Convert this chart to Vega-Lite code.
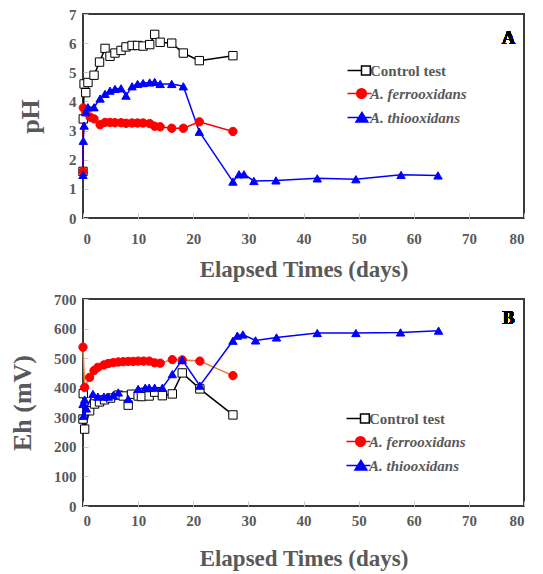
{
  "$schema": "https://vega.github.io/schema/vega-lite/v6.json",
  "background": "white",
  "padding": {"left": 8, "top": 6, "right": 5, "bottom": 5},
  "config": {
    "font": "Liberation Serif",
    "view": {"stroke": "#3a3a3a", "strokeWidth": 2},
    "axis": {
      "grid": false, "domain": false,
      "labelFont": "Liberation Serif", "labelFontWeight": "bold", "labelFontSize": 15, "labelColor": "#595959",
      "titleFont": "Liberation Serif", "titleFontWeight": "bold", "titleColor": "#595959",
      "tickColor": "#c8c8c8", "tickSize": -5, "tickWidth": 1
    },
    "legend": {
      "labelFont": "Liberation Serif", "labelFontSize": 15, "labelFontWeight": "bold", "labelColor": "#595959",
      "symbolSize": 64, "symbolStrokeWidth": 1.5, "symbolOpacity": 1, "rowPadding": 7, "labelOffset": 5
    }
  },
  "datasets": {
    "ph": [
      {"series": "Control test", "day": 0, "value": 1.6},
      {"series": "Control test", "day": 0.05, "value": 3.4},
      {"series": "Control test", "day": 0.2, "value": 4.6},
      {"series": "Control test", "day": 0.5, "value": 4.3},
      {"series": "Control test", "day": 0.9, "value": 4.65},
      {"series": "Control test", "day": 2, "value": 4.9},
      {"series": "Control test", "day": 3, "value": 5.35},
      {"series": "Control test", "day": 4, "value": 5.82},
      {"series": "Control test", "day": 4.9, "value": 5.55},
      {"series": "Control test", "day": 5.8, "value": 5.66},
      {"series": "Control test", "day": 6.9, "value": 5.75},
      {"series": "Control test", "day": 7.8, "value": 5.87},
      {"series": "Control test", "day": 8.9, "value": 5.92},
      {"series": "Control test", "day": 9.9, "value": 5.92},
      {"series": "Control test", "day": 10.9, "value": 5.9},
      {"series": "Control test", "day": 12.1, "value": 5.95},
      {"series": "Control test", "day": 13, "value": 6.3},
      {"series": "Control test", "day": 14, "value": 6.03},
      {"series": "Control test", "day": 16.1, "value": 6.0},
      {"series": "Control test", "day": 18.2, "value": 5.66},
      {"series": "Control test", "day": 21.1, "value": 5.4},
      {"series": "Control test", "day": 27.2, "value": 5.57},
      {"series": "A. ferrooxidans", "day": 0, "value": 1.6},
      {"series": "A. ferrooxidans", "day": 0.05, "value": 3.78},
      {"series": "A. ferrooxidans", "day": 0.5, "value": 3.64},
      {"series": "A. ferrooxidans", "day": 1.3, "value": 3.46},
      {"series": "A. ferrooxidans", "day": 2, "value": 3.4},
      {"series": "A. ferrooxidans", "day": 3.1, "value": 3.2},
      {"series": "A. ferrooxidans", "day": 4, "value": 3.28},
      {"series": "A. ferrooxidans", "day": 4.9, "value": 3.28},
      {"series": "A. ferrooxidans", "day": 5.8, "value": 3.27},
      {"series": "A. ferrooxidans", "day": 6.9, "value": 3.27},
      {"series": "A. ferrooxidans", "day": 7.8, "value": 3.25},
      {"series": "A. ferrooxidans", "day": 8.9, "value": 3.26},
      {"series": "A. ferrooxidans", "day": 9.9, "value": 3.26},
      {"series": "A. ferrooxidans", "day": 10.9, "value": 3.26},
      {"series": "A. ferrooxidans", "day": 12.1, "value": 3.24},
      {"series": "A. ferrooxidans", "day": 13, "value": 3.15},
      {"series": "A. ferrooxidans", "day": 14, "value": 3.13},
      {"series": "A. ferrooxidans", "day": 16.1, "value": 3.08},
      {"series": "A. ferrooxidans", "day": 18.2, "value": 3.08},
      {"series": "A. ferrooxidans", "day": 21.1, "value": 3.3},
      {"series": "A. ferrooxidans", "day": 27.2, "value": 2.97},
      {"series": "A. thiooxidans", "day": 0, "value": 1.48},
      {"series": "A. thiooxidans", "day": 0.05, "value": 2.65},
      {"series": "A. thiooxidans", "day": 0.2, "value": 3.17},
      {"series": "A. thiooxidans", "day": 0.5, "value": 3.63},
      {"series": "A. thiooxidans", "day": 0.9, "value": 3.8},
      {"series": "A. thiooxidans", "day": 2, "value": 3.8},
      {"series": "A. thiooxidans", "day": 3.1, "value": 4.1},
      {"series": "A. thiooxidans", "day": 4, "value": 4.26},
      {"series": "A. thiooxidans", "day": 4.9, "value": 4.37},
      {"series": "A. thiooxidans", "day": 5.8, "value": 4.43},
      {"series": "A. thiooxidans", "day": 6.9, "value": 4.45},
      {"series": "A. thiooxidans", "day": 7.8, "value": 4.2},
      {"series": "A. thiooxidans", "day": 8.9, "value": 4.52},
      {"series": "A. thiooxidans", "day": 9.9, "value": 4.6},
      {"series": "A. thiooxidans", "day": 10.9, "value": 4.63},
      {"series": "A. thiooxidans", "day": 12.1, "value": 4.65},
      {"series": "A. thiooxidans", "day": 13, "value": 4.67},
      {"series": "A. thiooxidans", "day": 14, "value": 4.6},
      {"series": "A. thiooxidans", "day": 16.1, "value": 4.6},
      {"series": "A. thiooxidans", "day": 18.2, "value": 4.52},
      {"series": "A. thiooxidans", "day": 21.1, "value": 2.96},
      {"series": "A. thiooxidans", "day": 27.2, "value": 1.25},
      {"series": "A. thiooxidans", "day": 28.3, "value": 1.5},
      {"series": "A. thiooxidans", "day": 29.2, "value": 1.5},
      {"series": "A. thiooxidans", "day": 31, "value": 1.27},
      {"series": "A. thiooxidans", "day": 35, "value": 1.29},
      {"series": "A. thiooxidans", "day": 42.5, "value": 1.36},
      {"series": "A. thiooxidans", "day": 49.5, "value": 1.33},
      {"series": "A. thiooxidans", "day": 57.7, "value": 1.48},
      {"series": "A. thiooxidans", "day": 64.4, "value": 1.46}
    ],
    "eh": [
      {"series": "Control test", "day": 0, "value": 294},
      {"series": "Control test", "day": 0.05, "value": 380},
      {"series": "Control test", "day": 0.3, "value": 260},
      {"series": "Control test", "day": 1.2, "value": 322},
      {"series": "Control test", "day": 2.1, "value": 345},
      {"series": "Control test", "day": 3, "value": 352},
      {"series": "Control test", "day": 3.9, "value": 359},
      {"series": "Control test", "day": 5, "value": 365},
      {"series": "Control test", "day": 6.4, "value": 375},
      {"series": "Control test", "day": 7.3, "value": 372},
      {"series": "Control test", "day": 8.2, "value": 341},
      {"series": "Control test", "day": 8.8, "value": 378},
      {"series": "Control test", "day": 10, "value": 372},
      {"series": "Control test", "day": 10.6, "value": 370},
      {"series": "Control test", "day": 12, "value": 372},
      {"series": "Control test", "day": 13, "value": 385},
      {"series": "Control test", "day": 14.4, "value": 373},
      {"series": "Control test", "day": 16.2, "value": 379},
      {"series": "Control test", "day": 18, "value": 450},
      {"series": "Control test", "day": 21.2, "value": 396},
      {"series": "Control test", "day": 27.2, "value": 308},
      {"series": "A. ferrooxidans", "day": 0, "value": 537},
      {"series": "A. ferrooxidans", "day": 0.3, "value": 401},
      {"series": "A. ferrooxidans", "day": 1.2, "value": 435},
      {"series": "A. ferrooxidans", "day": 2, "value": 458},
      {"series": "A. ferrooxidans", "day": 2.7, "value": 469},
      {"series": "A. ferrooxidans", "day": 3.8, "value": 477},
      {"series": "A. ferrooxidans", "day": 4.6, "value": 482},
      {"series": "A. ferrooxidans", "day": 5.5, "value": 485},
      {"series": "A. ferrooxidans", "day": 6.4, "value": 487},
      {"series": "A. ferrooxidans", "day": 7.3, "value": 488},
      {"series": "A. ferrooxidans", "day": 8.2, "value": 489},
      {"series": "A. ferrooxidans", "day": 9.1, "value": 489},
      {"series": "A. ferrooxidans", "day": 10, "value": 490},
      {"series": "A. ferrooxidans", "day": 11, "value": 490},
      {"series": "A. ferrooxidans", "day": 12, "value": 490},
      {"series": "A. ferrooxidans", "day": 13, "value": 484},
      {"series": "A. ferrooxidans", "day": 14, "value": 483},
      {"series": "A. ferrooxidans", "day": 16.2, "value": 495},
      {"series": "A. ferrooxidans", "day": 18, "value": 494},
      {"series": "A. ferrooxidans", "day": 21.2, "value": 490},
      {"series": "A. ferrooxidans", "day": 27.2, "value": 441},
      {"series": "A. thiooxidans", "day": 0, "value": 345},
      {"series": "A. thiooxidans", "day": 0.1, "value": 305},
      {"series": "A. thiooxidans", "day": 0.3, "value": 360},
      {"series": "A. thiooxidans", "day": 0.6, "value": 330},
      {"series": "A. thiooxidans", "day": 1.8, "value": 379},
      {"series": "A. thiooxidans", "day": 2.7, "value": 370},
      {"series": "A. thiooxidans", "day": 3.8, "value": 370},
      {"series": "A. thiooxidans", "day": 4.6, "value": 370},
      {"series": "A. thiooxidans", "day": 5.5, "value": 375},
      {"series": "A. thiooxidans", "day": 6.4, "value": 384},
      {"series": "A. thiooxidans", "day": 8.2, "value": 362},
      {"series": "A. thiooxidans", "day": 10, "value": 396},
      {"series": "A. thiooxidans", "day": 11.3, "value": 400},
      {"series": "A. thiooxidans", "day": 12, "value": 400},
      {"series": "A. thiooxidans", "day": 13, "value": 400},
      {"series": "A. thiooxidans", "day": 14.4, "value": 400},
      {"series": "A. thiooxidans", "day": 16.2, "value": 446},
      {"series": "A. thiooxidans", "day": 18, "value": 494},
      {"series": "A. thiooxidans", "day": 21.2, "value": 407},
      {"series": "A. thiooxidans", "day": 27.2, "value": 559},
      {"series": "A. thiooxidans", "day": 28, "value": 576},
      {"series": "A. thiooxidans", "day": 29, "value": 580},
      {"series": "A. thiooxidans", "day": 31.3, "value": 560},
      {"series": "A. thiooxidans", "day": 35.1, "value": 570},
      {"series": "A. thiooxidans", "day": 42.5, "value": 585},
      {"series": "A. thiooxidans", "day": 49.5, "value": 585},
      {"series": "A. thiooxidans", "day": 57.6, "value": 587},
      {"series": "A. thiooxidans", "day": 64.5, "value": 593}
    ]
  },
  "spacing": 9,
  "resolve": {
    "scale": {"x": "independent", "y": "independent", "shape": "independent", "color": "independent", "fill": "independent", "stroke": "independent"},
    "legend": {"shape": "independent", "color": "independent", "fill": "independent", "stroke": "independent"}
  },
  "vconcat": [
    {
      "width": 441, "height": 204,
      "data": {"name": "ph"},
      "encoding": {
        "x": {"field": "day", "type": "quantitative", "scale": {"domain": [0, 80], "nice": false},
              "axis": {"values": [0,10,20,30,40,50,60,70,80], "title": "Elapsed Times (days)", "titleFontSize": 23, "labelPadding": 18, "titlePadding": 12}},
        "y": {"field": "value", "type": "quantitative", "scale": {"domain": [0, 7], "nice": false},
              "axis": {"values": [0,1,2,3,4,5,6,7], "title": "pH", "titleFontSize": 26, "labelPadding": 12, "titlePadding": 25}}
      },
      "resolve": {
        "scale": {"shape": "independent", "color": "independent", "fill": "independent"},
        "legend": {"shape": "independent", "color": "independent", "fill": "independent"}
      },
      "layer": [
        {
          "mark": {"type": "line", "strokeWidth": 1.5},
          "encoding": {
            "stroke": {"field": "series", "type": "nominal",
                       "scale": {"domain": ["A. ferrooxidans", "Control test", "A. thiooxidans"], "range": ["#ff0000", "#000000", "#0000ff"]}, "legend": null}
          }
        },
        {
          "mark": {"type": "point", "filled": false, "opacity": 1, "strokeWidth": 1, "size": 70},
          "encoding": {
            "color": {"field": "series", "type": "nominal",
                      "scale": {"domain": ["Control test", "A. ferrooxidans", "A. thiooxidans"], "range": ["#000000", "#ff0000", "#0000ff"]}, "legend": null},
            "shape": {"field": "series", "type": "nominal",
                      "scale": {"domain": ["Control test", "A. ferrooxidans", "A. thiooxidans"], "range": ["square", "circle", "triangle-up"]}, "legend": null},
            "fill": {"field": "series", "type": "nominal",
                     "scale": {"domain": ["Control test", "A. ferrooxidans", "A. thiooxidans"], "range": ["#ffffff", "#ff0000", "#0000ff"]}, "legend": null}
          }
        },
        {
          "transform": [{"filter": "false"}],
          "mark": {"type": "point", "filled": false, "opacity": 1, "strokeWidth": 1.5},
          "encoding": {
            "shape": {"field": "series", "type": "nominal",
                      "scale": {"domain": ["Control test"], "range": ["M-2.5,0H1M3.2,0H3.5M1,-1.1H3.2V1.1H1Z"]},
                      "legend": {"title": null, "orient": "none", "legendX": 267, "legendY": 49}},
            "color": {"field": "series", "type": "nominal", "scale": {"domain": ["Control test"], "range": ["#000000"]}},
            "fill": {"field": "series", "type": "nominal", "scale": {"domain": ["Control test"], "range": ["#ffffff"]}}
          }
        },
        {
          "transform": [{"filter": "false"}],
          "mark": {"type": "point", "filled": false, "opacity": 1, "strokeWidth": 1.5},
          "encoding": {
            "shape": {"field": "series", "type": "nominal",
                      "scale": {"domain": ["A. ferrooxidans", "A. thiooxidans"],
                                "range": ["M-2.5,0H3.5M-0.2,0A1.2,1.2,0,1,1,2.2,0A1.2,1.2,0,1,1,-0.2,0Z", "M-2.5,0H3.5M1.1,-1.3L2.6,1.1H-0.4Z"]},
                      "legend": {"title": null, "orient": "none", "legendX": 267, "legendY": 72, "labelFontStyle": "italic"}},
            "color": {"field": "series", "type": "nominal", "scale": {"domain": ["A. ferrooxidans", "A. thiooxidans"], "range": ["#ff0000", "#0000ff"]}},
            "fill": {"field": "series", "type": "nominal", "scale": {"domain": ["A. ferrooxidans", "A. thiooxidans"], "range": ["#ff0000", "#0000ff"]}}
          }
        },
        {
          "mark": {"type": "text", "text": "A", "fontSize": 18, "fontWeight": "bold", "font": "Liberation Serif", "color": "#000000"},
          "encoding": {"x": {"datum": 77.2}, "y": {"datum": 6.15}}
        }
      ]
    },
    {
      "width": 441, "height": 207,
      "data": {"name": "eh"},
      "encoding": {
        "x": {"field": "day", "type": "quantitative", "scale": {"domain": [0, 80], "nice": false},
              "axis": {"values": [0,10,20,30,40,50,60,70,80], "title": "Elapsed Times (days)", "titleFontSize": 23, "labelPadding": 12, "titlePadding": 19}},
        "y": {"field": "value", "type": "quantitative", "scale": {"domain": [0, 700], "nice": false},
              "axis": {"values": [0,100,200,300,400,500,600,700], "title": "Eh (mV)", "titleFontSize": 26, "labelPadding": 12, "titlePadding": 18}}
      },
      "resolve": {
        "scale": {"shape": "independent", "color": "independent", "fill": "independent"},
        "legend": {"shape": "independent", "color": "independent", "fill": "independent"}
      },
      "layer": [
        {
          "mark": {"type": "line", "strokeWidth": 1.5},
          "encoding": {
            "stroke": {"field": "series", "type": "nominal",
                       "scale": {"domain": ["A. ferrooxidans", "Control test", "A. thiooxidans"], "range": ["#ed7d31", "#000000", "#0000ff"]}, "legend": null}
          }
        },
        {
          "mark": {"type": "point", "filled": false, "opacity": 1, "strokeWidth": 1, "size": 70},
          "encoding": {
            "color": {"field": "series", "type": "nominal",
                      "scale": {"domain": ["Control test", "A. ferrooxidans", "A. thiooxidans"], "range": ["#000000", "#ff0000", "#0000ff"]}, "legend": null},
            "shape": {"field": "series", "type": "nominal",
                      "scale": {"domain": ["Control test", "A. ferrooxidans", "A. thiooxidans"], "range": ["square", "circle", "triangle-up"]}, "legend": null},
            "fill": {"field": "series", "type": "nominal",
                     "scale": {"domain": ["Control test", "A. ferrooxidans", "A. thiooxidans"], "range": ["#ffffff", "#ff0000", "#0000ff"]}, "legend": null}
          }
        },
        {
          "transform": [{"filter": "false"}],
          "mark": {"type": "point", "filled": false, "opacity": 1, "strokeWidth": 1.5},
          "encoding": {
            "shape": {"field": "series", "type": "nominal",
                      "scale": {"domain": ["Control test"], "range": ["M-2.5,0H1M3.2,0H3.5M1,-1.1H3.2V1.1H1Z"]},
                      "legend": {"title": null, "orient": "none", "legendX": 266, "legendY": 112}},
            "color": {"field": "series", "type": "nominal", "scale": {"domain": ["Control test"], "range": ["#000000"]}},
            "fill": {"field": "series", "type": "nominal", "scale": {"domain": ["Control test"], "range": ["#ffffff"]}}
          }
        },
        {
          "transform": [{"filter": "false"}],
          "mark": {"type": "point", "filled": false, "opacity": 1, "strokeWidth": 1.5},
          "encoding": {
            "shape": {"field": "series", "type": "nominal",
                      "scale": {"domain": ["A. ferrooxidans", "A. thiooxidans"],
                                "range": ["M-2.5,0H3.5M-0.2,0A1.2,1.2,0,1,1,2.2,0A1.2,1.2,0,1,1,-0.2,0Z", "M-2.5,0H3.5M1.1,-1.3L2.6,1.1H-0.4Z"]},
                      "legend": {"title": null, "orient": "none", "legendX": 266, "legendY": 135, "labelFontStyle": "italic"}},
            "color": {"field": "series", "type": "nominal", "scale": {"domain": ["A. ferrooxidans", "A. thiooxidans"], "range": ["#ff0000", "#0000ff"]}},
            "fill": {"field": "series", "type": "nominal", "scale": {"domain": ["A. ferrooxidans", "A. thiooxidans"], "range": ["#ff0000", "#0000ff"]}}
          }
        },
        {
          "mark": {"type": "text", "text": "B", "fontSize": 18, "fontWeight": "bold", "font": "Liberation Serif", "color": "#000000"},
          "encoding": {"x": {"datum": 77.2}, "y": {"datum": 632}}
        }
      ]
    }
  ]
}
